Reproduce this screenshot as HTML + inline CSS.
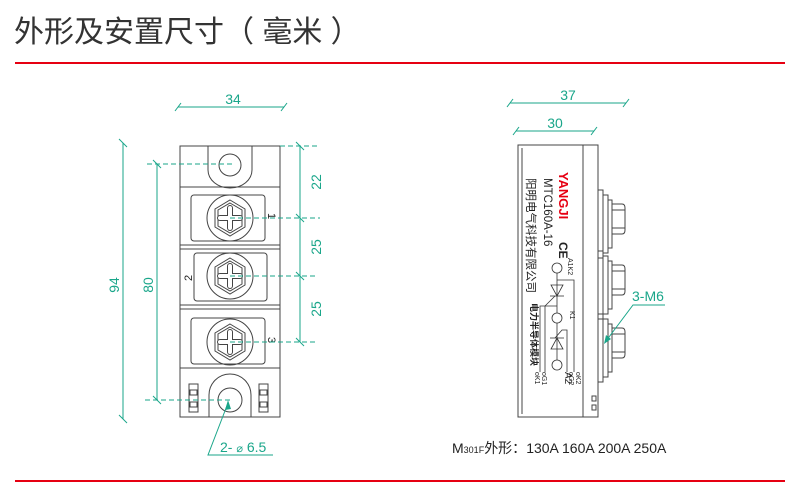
<!DOCTYPE html>
<html><head><meta charset="utf-8"><style>
html,body{margin:0;padding:0;background:#fff;width:800px;height:490px;overflow:hidden}
svg{display:block}
text{font-family:"Liberation Sans","Noto Sans CJK SC",sans-serif}
</style></head><body>
<svg width="800" height="490" viewBox="0 0 800 490" xmlns="http://www.w3.org/2000/svg">
<text x="14" y="42" font-size="30" fill="#333" font-family="Noto Sans CJK SC,sans-serif">外形及安置尺寸（ 毫米 ）</text>
<rect x="15" y="62" width="770" height="2" fill="#e60012"/>
<rect x="15" y="480" width="770" height="2" fill="#e60012"/>

<!-- front view -->
<g fill="none" stroke="#444" stroke-width="1">
<rect x="180" y="146" width="100" height="271"/>
<line x1="180" y1="187" x2="280" y2="187"/>
<path d="M208 146 V170 A22 18 0 0 0 252 170 V146"/>
<circle cx="230" cy="165" r="11"/>
<line x1="180" y1="245" x2="280" y2="245"/><line x1="180" y1="249" x2="280" y2="249"/>
<line x1="180" y1="305" x2="280" y2="305"/><line x1="180" y1="309" x2="280" y2="309"/>
<line x1="180" y1="368" x2="280" y2="368"/>
<rect x="191" y="195" width="74" height="46" rx="3"/>
<rect x="194" y="253" width="73" height="48" rx="3"/>
<rect x="191" y="318" width="74" height="46" rx="3"/>
<circle cx="230" cy="218" r="23"/><polygon points="230,200 245,209 245,227 230,236 215,227 215,209"/><polygon points="230,203 242,210 242,226 230,233 218,226 218,210"/>
<circle cx="230" cy="276" r="23"/><polygon points="230,258 245,267 245,285 230,294 215,285 215,267"/><polygon points="230,261 242,268 242,284 230,291 218,284 218,268"/>
<circle cx="230" cy="342" r="23"/><polygon points="230,324 245,333 245,351 230,360 215,351 215,333"/><polygon points="230,327 242,334 242,350 230,357 218,350 218,334"/>
<path d="M209 417 V395 A21 21 0 0 1 251 395 V417"/>
<circle cx="230" cy="400" r="12"/>
<rect x="189" y="384" width="9" height="28"/><rect x="190" y="390" width="7" height="5"/><rect x="190" y="402" width="7" height="5"/>
<rect x="259" y="384" width="9" height="28"/><rect x="260" y="390" width="7" height="5"/><rect x="260" y="402" width="7" height="5"/>
</g>
<g stroke="#444" stroke-width="6" stroke-linecap="round">
<line x1="230" y1="208" x2="230" y2="228"/><line x1="220" y1="218" x2="240" y2="218"/>
<line x1="230" y1="266" x2="230" y2="286"/><line x1="220" y1="276" x2="240" y2="276"/>
<line x1="230" y1="332" x2="230" y2="352"/><line x1="220" y1="342" x2="240" y2="342"/>
</g>
<g stroke="#fff" stroke-width="4" stroke-linecap="round">
<line x1="230" y1="208" x2="230" y2="228"/><line x1="220" y1="218" x2="240" y2="218"/>
<line x1="230" y1="266" x2="230" y2="286"/><line x1="220" y1="276" x2="240" y2="276"/>
<line x1="230" y1="332" x2="230" y2="352"/><line x1="220" y1="342" x2="240" y2="342"/>
</g>
<g font-size="11" fill="#222">
<text transform="translate(268,213) rotate(90)">1</text>
<text transform="translate(192,281) rotate(-90)">2</text>
<text transform="translate(268,337) rotate(90)">3</text>
</g>

<!-- dimensions front -->
<g stroke="#1aa68a" stroke-width="1" fill="none">
<line x1="178" y1="107" x2="284" y2="107"/>
<line x1="175" y1="111" x2="181" y2="103"/><line x1="281" y1="111" x2="287" y2="103"/>
<line x1="123" y1="143" x2="123" y2="419"/>
<line x1="119" y1="139" x2="127" y2="147"/><line x1="119" y1="415" x2="127" y2="423"/>
<line x1="157" y1="164" x2="157" y2="400"/>
<line x1="153" y1="160" x2="161" y2="168"/><line x1="153" y1="396" x2="161" y2="404"/>
<line x1="300" y1="146" x2="300" y2="342"/>
<line x1="296" y1="142" x2="304" y2="150"/><line x1="296" y1="214" x2="304" y2="222"/><line x1="296" y1="272" x2="304" y2="280"/><line x1="296" y1="338" x2="304" y2="346"/>
<g stroke-dasharray="5,3">
<line x1="147" y1="164" x2="232" y2="164"/><line x1="145" y1="400" x2="232" y2="400"/>
<line x1="280" y1="146" x2="318" y2="146"/><line x1="230" y1="218" x2="320" y2="218"/>
<line x1="230" y1="276" x2="318" y2="276"/><line x1="230" y1="342" x2="318" y2="342"/>
</g>
<polyline points="228,403 208,455 273,455"/>
</g>
<polygon points="228,400 225,410 231,409" fill="#1aa68a"/>
<g fill="#1aa68a" font-size="14">
<text x="233" y="104" text-anchor="middle">34</text>
<text transform="translate(119,285) rotate(-90)" text-anchor="middle">94</text>
<text transform="translate(153,285) rotate(-90)" text-anchor="middle">80</text>
<text transform="translate(321,182) rotate(-90)" text-anchor="middle">22</text>
<text transform="translate(321,247) rotate(-90)" text-anchor="middle">25</text>
<text transform="translate(321,309) rotate(-90)" text-anchor="middle">25</text>
<text x="220" y="452">2- <tspan font-size="11">⌀</tspan> 6.5</text>
<text x="632" y="301">3-M6</text>
<text x="568" y="100" text-anchor="middle">37</text>
<text x="555" y="128" text-anchor="middle">30</text>
</g>

<!-- side view -->
<g fill="none" stroke="#444" stroke-width="1">
<rect x="518" y="145" width="80" height="272"/>
<line x1="522" y1="148" x2="522" y2="414"/>
<line x1="583" y1="145" x2="583" y2="417"/>
<g id="t">
<path d="M598 190 H603 V258 H598"/><path d="M603 195 H608 V253 H603"/><path d="M608 200 H612 V248 H608"/>
<path d="M612 204 H622 Q625 204 625 208 V230 Q625 234 622 234 H612"/>
<line x1="612" y1="210" x2="625" y2="210"/><line x1="612" y1="228" x2="625" y2="228"/>
</g>
<use href="#t" transform="translate(0,61)"/>
<use href="#t" transform="translate(0,124)"/>
<rect x="592" y="396" width="4" height="5"/><rect x="592" y="405" width="4" height="5"/>
</g>
<g stroke="#1aa68a" stroke-width="1" fill="none">
<line x1="510" y1="103" x2="626" y2="103"/>
<line x1="507" y1="107" x2="513" y2="99"/><line x1="623" y1="107" x2="629" y2="99"/>
<line x1="516" y1="131" x2="594" y2="131"/>
<line x1="513" y1="135" x2="519" y2="127"/><line x1="591" y1="135" x2="597" y2="127"/>
<polyline points="665,305 633,305 606,341"/>
</g>
<polygon points="604,344 606,335 611,339" fill="#1aa68a"/>

<g font-size="13">
<text transform="translate(559,172) rotate(90)" fill="#e60012" font-weight="bold">YANGJI</text>
<text transform="translate(544,178) rotate(90)" fill="#222" font-size="11.5">MTC160A-16</text>
<text transform="translate(527,178) rotate(90)" fill="#222" font-size="11.5" font-family="Noto Sans CJK SC,sans-serif">阳明电气科技有限公司</text>
<text transform="translate(531,303) rotate(90)" fill="#222" font-size="9" font-family="Noto Sans CJK SC,sans-serif" font-weight="bold">电力半导体模块</text>
<text transform="translate(559,242) rotate(90)" fill="#222" font-size="12" font-weight="bold">CE</text>
<text transform="translate(568,258) rotate(90)" fill="#222" font-size="7">A1K2</text>
<text transform="translate(570,311) rotate(90)" fill="#222" font-size="7">K1</text>
<text transform="translate(565,372) rotate(90)" fill="#222" font-size="10">A2</text>
<text transform="translate(535,372) rotate(90)" fill="#222" font-size="7">oK1</text>
<text transform="translate(542,372) rotate(90)" fill="#222" font-size="7">oG1</text>
<text transform="translate(569,372) rotate(90)" fill="#222" font-size="7">oG2</text>
<text transform="translate(576,372) rotate(90)" fill="#222" font-size="7">oK2</text>
</g>
<g fill="none" stroke="#333" stroke-width="0.8">
<circle cx="557" cy="268" r="5"/><circle cx="557" cy="318" r="5"/><circle cx="557" cy="365" r="5"/>
<line x1="557" y1="273" x2="557" y2="313"/><line x1="557" y1="323" x2="557" y2="360"/>
<polygon points="551,285 563,285 557,296"/><line x1="550" y1="296" x2="564" y2="296"/>
<polygon points="551,349 563,349 557,338"/><line x1="550" y1="338" x2="564" y2="338"/>
<polyline points="555,296 545,306 545,372"/><polyline points="540,372 540,306 557,306"/>
<polyline points="557,280 574,280 574,372"/><polyline points="555,338 562,330 567,330 567,372"/>
</g>
<text x="452" y="453" font-size="14" fill="#222">M<tspan font-size="9">301F</tspan><tspan font-family="Noto Sans CJK SC,sans-serif">外形：</tspan>130A 160A 200A 250A</text>
</svg>
</body></html>
